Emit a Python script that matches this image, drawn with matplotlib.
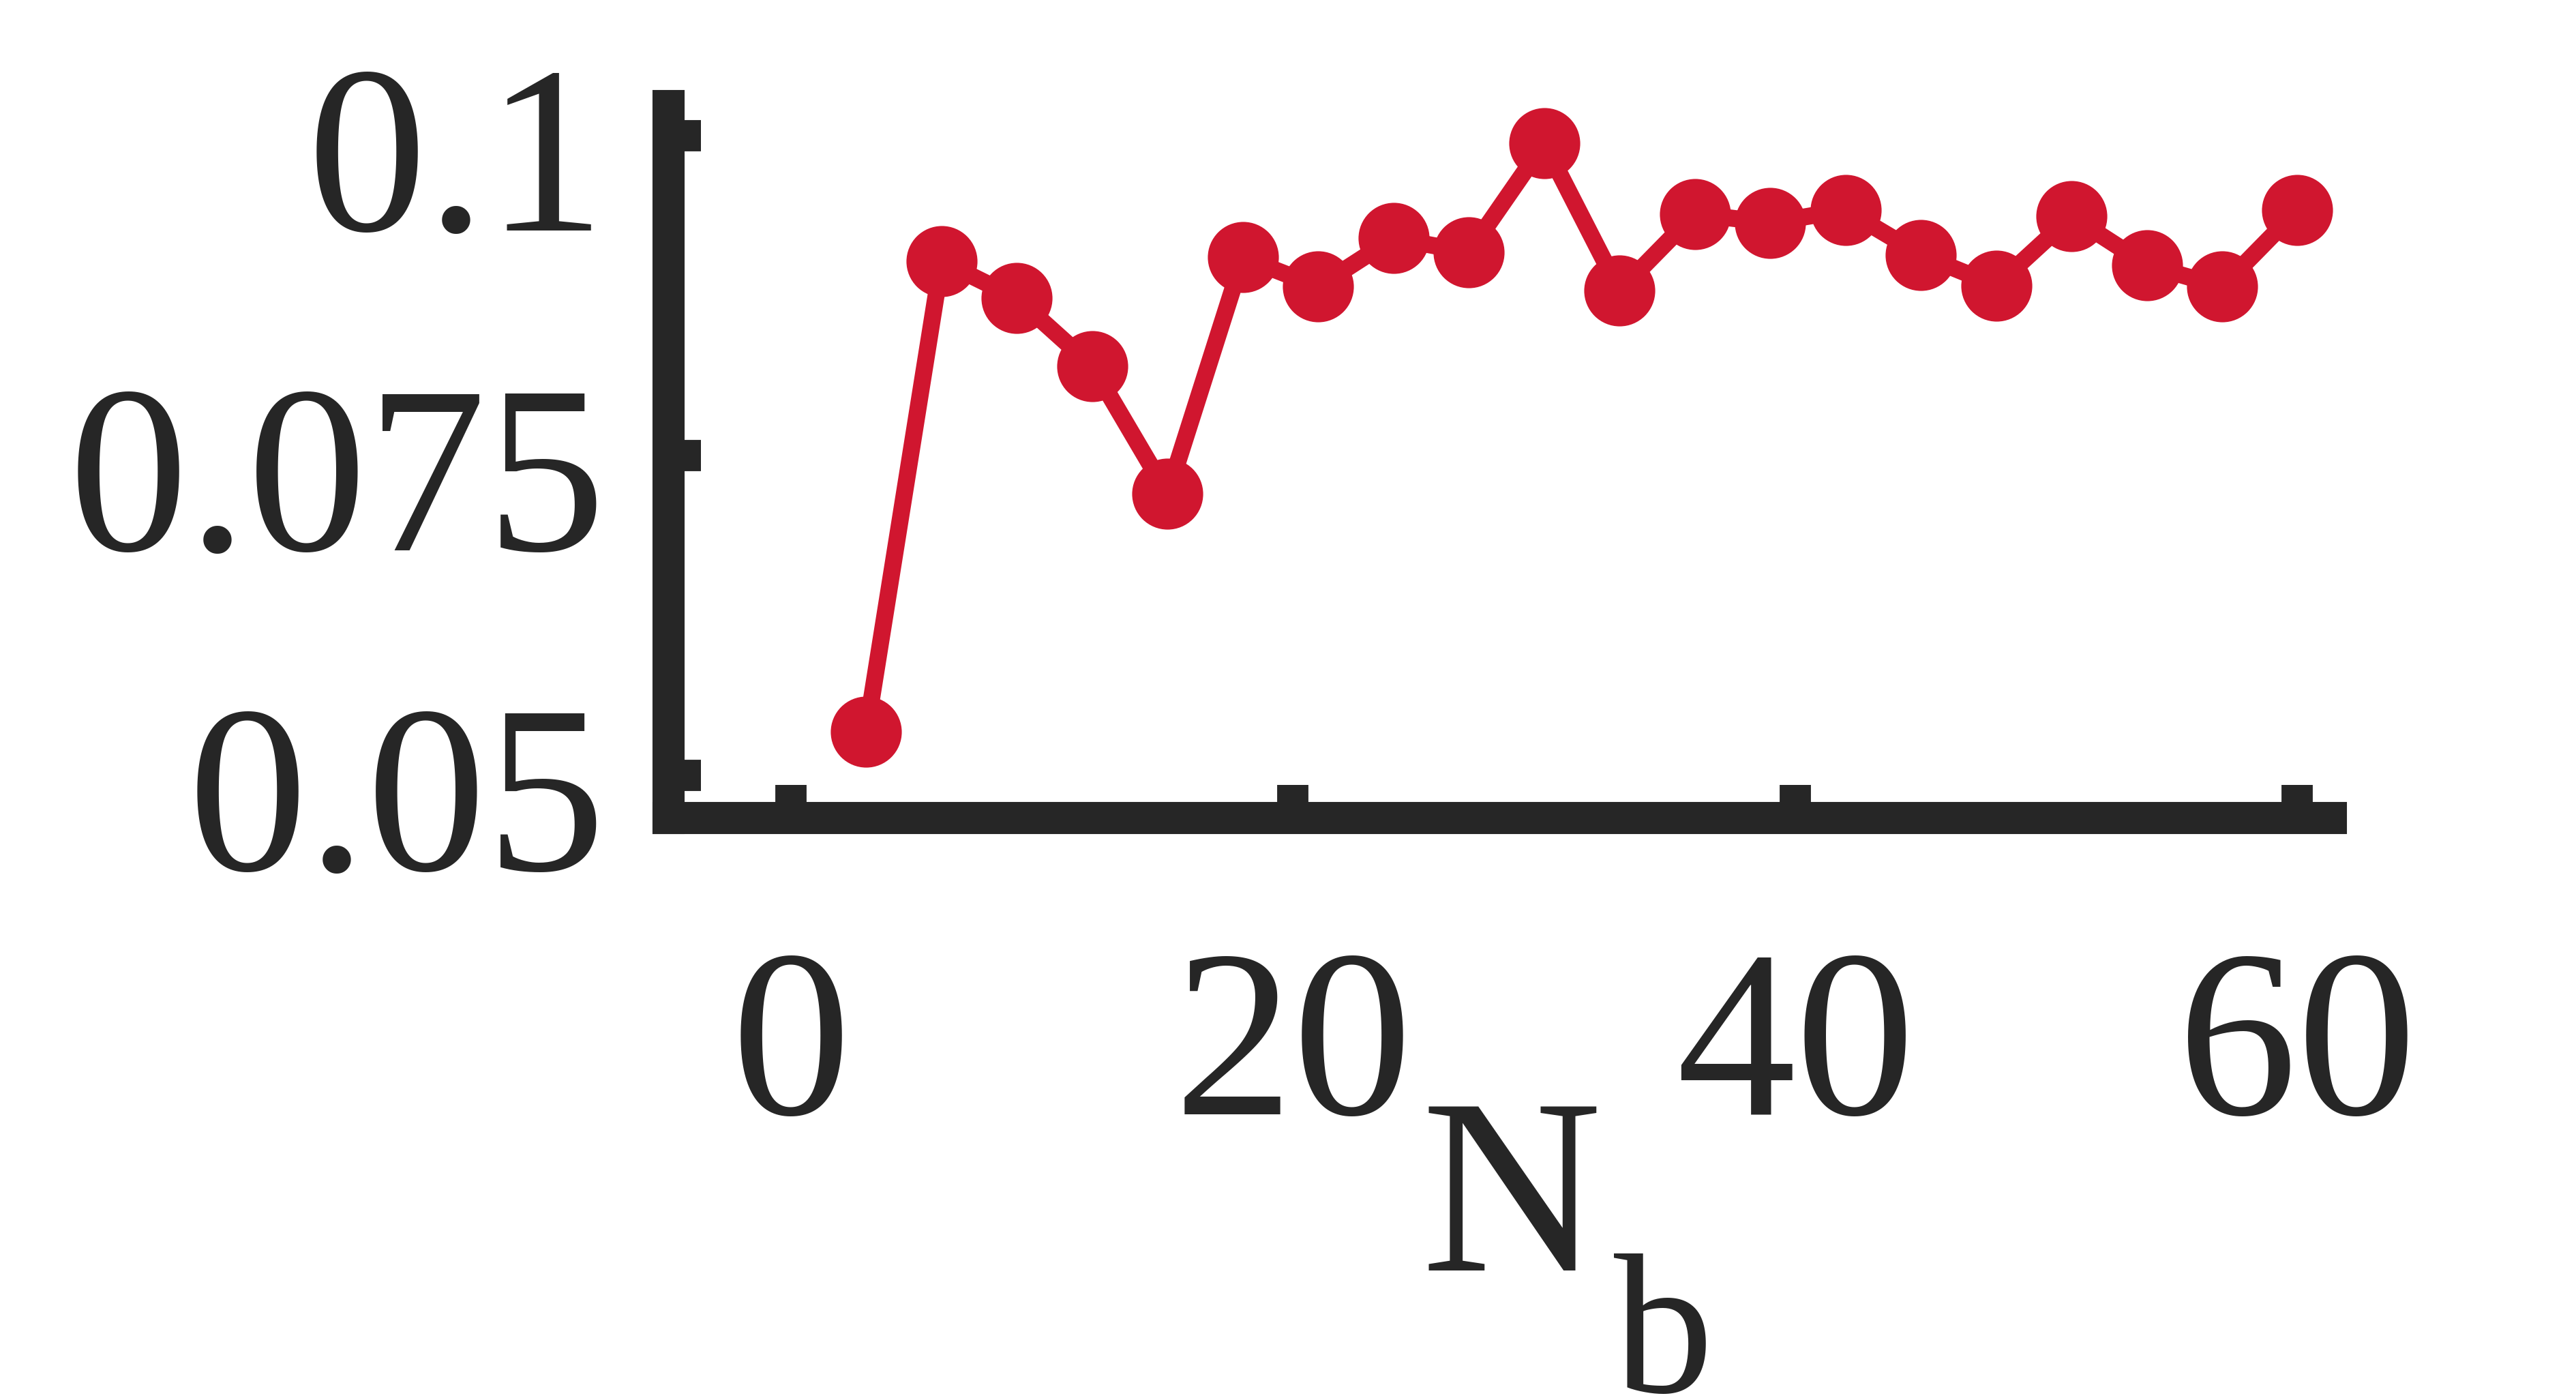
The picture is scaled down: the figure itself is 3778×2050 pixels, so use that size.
import numpy as np
import matplotlib.pyplot as plt
from matplotlib.transforms import ScaledTranslation

nb = [3, 6, 9, 12, 15, 18, 21, 24, 27, 30, 33, 36, 39, 42, 45, 48, 51, 54, 57, 60]
vals = [0.0534, 0.0902, 0.0873, 0.0820, 0.0720, 0.0905, 0.0882, 0.0920, 0.0909, 0.0994,
        0.0879, 0.0939, 0.0932, 0.0942, 0.0907, 0.0883, 0.0937, 0.0899, 0.0882, 0.0942]
xticks = [0, 20, 40, 60]
yticks = [0.05, 0.075, 0.1]
ytick_labels = ['0.05', '0.075', '0.1']

dark = '#262626'
red = '#D0162F'
serif = 'Liberation Serif'

fig = plt.figure(figsize=(3779 / 300, 2050 / 300), dpi=300)
ax = fig.add_axes([0.2593, 0.4151, 0.9045 - 0.2593, 0.9244 - 0.4151])

ax.plot(nb, vals, color=red, linewidth=6, marker='o', markersize=24,
        markeredgewidth=1, markeredgecolor=red, clip_on=False)

ax.set_xlim(-4.89, 61.32)
ax.set_ylim(0.0467, 0.10235)
ax.set_xticks(xticks)
ax.set_xticklabels([str(t) for t in xticks], family=serif, fontsize=84)
ax.set_yticks(yticks)
ax.set_yticklabels(ytick_labels, family=serif, fontsize=84)

for side in ['top', 'right']:
    ax.spines[side].set_visible(False)
for side in ['left', 'bottom']:
    ax.spines[side].set_linewidth(11.3)
    ax.spines[side].set_color(dark)

ax.tick_params(axis='both', direction='in', length=11.5, width=11, color=dark,
               labelcolor=dark)
ax.tick_params(axis='y', pad=22)
ax.tick_params(axis='x', pad=46)

# y labels sit a bit below their ticks in the original
for lab in ax.get_yticklabels():
    lab.set_transform(lab.get_transform() + ScaledTranslation(0, -17 / 300, fig.dpi_scale_trans))

# axis label N_b
fig.text(2085 / 3779, 1 - 1863 / 2050, 'N', fontsize=88, color=dark, family=serif,
         ha='left', va='baseline')
fig.text(2367 / 3779, 1 - 2041 / 2050, 'b', fontsize=70, color=dark, family=serif,
         ha='left', va='baseline')

fig.savefig('out.png', dpi=300)
